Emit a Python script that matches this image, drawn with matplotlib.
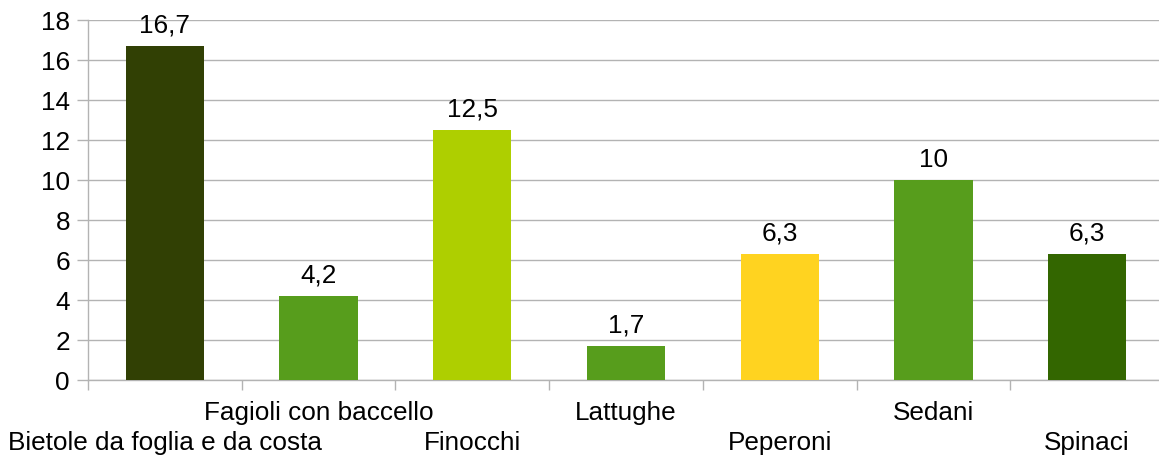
import numpy as np
import matplotlib
matplotlib.use("Agg")
import matplotlib.pyplot as plt

categories = ["Bietole da foglia e da costa", "Fagioli con baccello", "Finocchi",
              "Lattughe", "Peperoni", "Sedani", "Spinaci"]
values = [16.7, 4.2, 12.5, 1.7, 6.3, 10, 6.3]
value_labels = ["16,7", "4,2", "12,5", "1,7", "6,3", "10", "6,3"]
colors = ["#314004", "#579d1c", "#aecf00", "#579d1c", "#ffd320", "#579d1c", "#336600"]

plt.rcParams['font.family'] = ['Liberation Sans', 'DejaVu Sans']
grey = "#b3b3b3"
fs = 18.8

fig = plt.figure(figsize=(11.59, 4.58), dpi=100)
# plot area runs a bit past the right edge of the image, like the original
ax = fig.add_axes([88/1159, 78/458, 1076/1159, 360/458])

x = np.arange(len(categories))
ax.bar(x, values, width=0.51, color=colors, zorder=3)

for xi, v, lab in zip(x, values, value_labels):
    ax.annotate(lab, (xi, v), xytext=(0, 9.5), textcoords='offset points',
                ha='center', va='baseline', fontsize=fs)

ax.set_xlim(-0.5, len(categories) - 0.5)
ax.set_ylim(0, 18)
ax.set_yticks(np.arange(0, 19, 2))
ax.yaxis.grid(True, color=grey, lw=1, zorder=0)
ax.tick_params(axis='y', length=8, width=1, color=grey, labelsize=fs, pad=5)

# category boundaries as ticks, labels staggered in two rows
ax.set_xticks(np.arange(-0.5, len(categories), 1))
ax.set_xticklabels([])
ax.tick_params(axis='x', length=7.5, width=1, color=grey)
for i, name in enumerate(categories):
    ypos = -63/360 if i % 2 == 0 else -33/360
    ax.text(i, ypos, name, transform=ax.get_xaxis_transform(),
            ha='center', va='center', fontsize=fs)

for side in ['top', 'right']:
    ax.spines[side].set_visible(False)
for side in ['left', 'bottom']:
    ax.spines[side].set_color(grey)
    ax.spines[side].set_linewidth(1)

fig.savefig("out.png", dpi=100)
